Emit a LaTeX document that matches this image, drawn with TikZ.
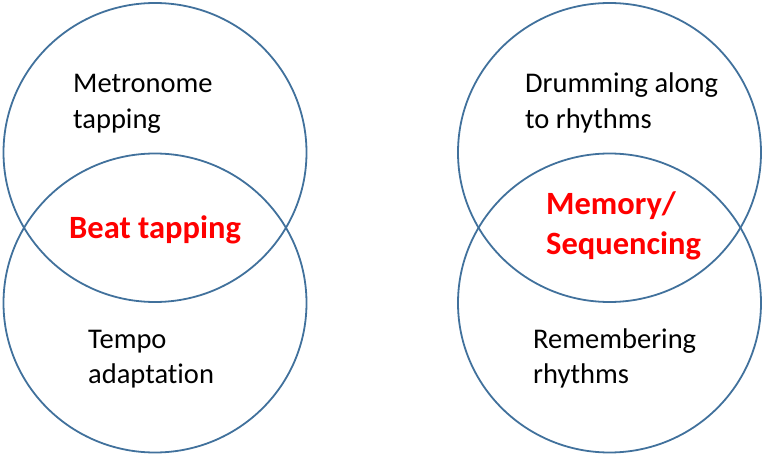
\documentclass[tikz,border=0pt]{standalone}
\usepackage{fontspec}
\setmainfont{Carlito}[Ligatures=NoCommon]
\definecolor{ringblue}{HTML}{41719C}
\definecolor{hotred}{HTML}{FF0000}
\tikzset{
  ring/.style={draw=ringblue, line width=1.8pt},
  plainlbl/.style={inner sep=0pt, anchor=base west, align=left, text=black,
    font=\fontsize{28.5}{35.5}\selectfont},
  keylbl/.style={inner sep=0pt, anchor=base west, align=left, text=hotred,
    font=\fontsize{32.5}{39.5}\selectfont\bfseries}
}
\begin{document}
\begin{tikzpicture}[x=1pt,y=-1pt]
\useasboundingbox (0,0) rectangle (766,457);
% left pair
\draw[ring] (155,152.5) ellipse [x radius=151.5, y radius=149.5];
\draw[ring] (155,303) ellipse [x radius=151.5, y radius=149.5];
% right pair
\draw[ring] (609.5,152.5) ellipse [x radius=151.5, y radius=149.5];
\draw[ring] (609.5,303) ellipse [x radius=151.5, y radius=149.5];
% labels left (base anchor = baseline of last line)
\node[plainlbl] (metro) at (73,128.5) {Metronome\\tapping};
\node[keylbl, anchor=base] (beat) at (155,239) {Beat tapping};
\node[plainlbl] (tempo) at (88,383.5) {Tempo\\adaptation};
% labels right
\node[plainlbl] (drum) at (525,128.5) {Drumming along\\to rhythms};
\node[keylbl] (mem) at (546,254.5) {Memory/\\Sequencing};
\node[plainlbl] (rem) at (533,383.5) {Remembering\\rhythms};
\end{tikzpicture}
\end{document}
